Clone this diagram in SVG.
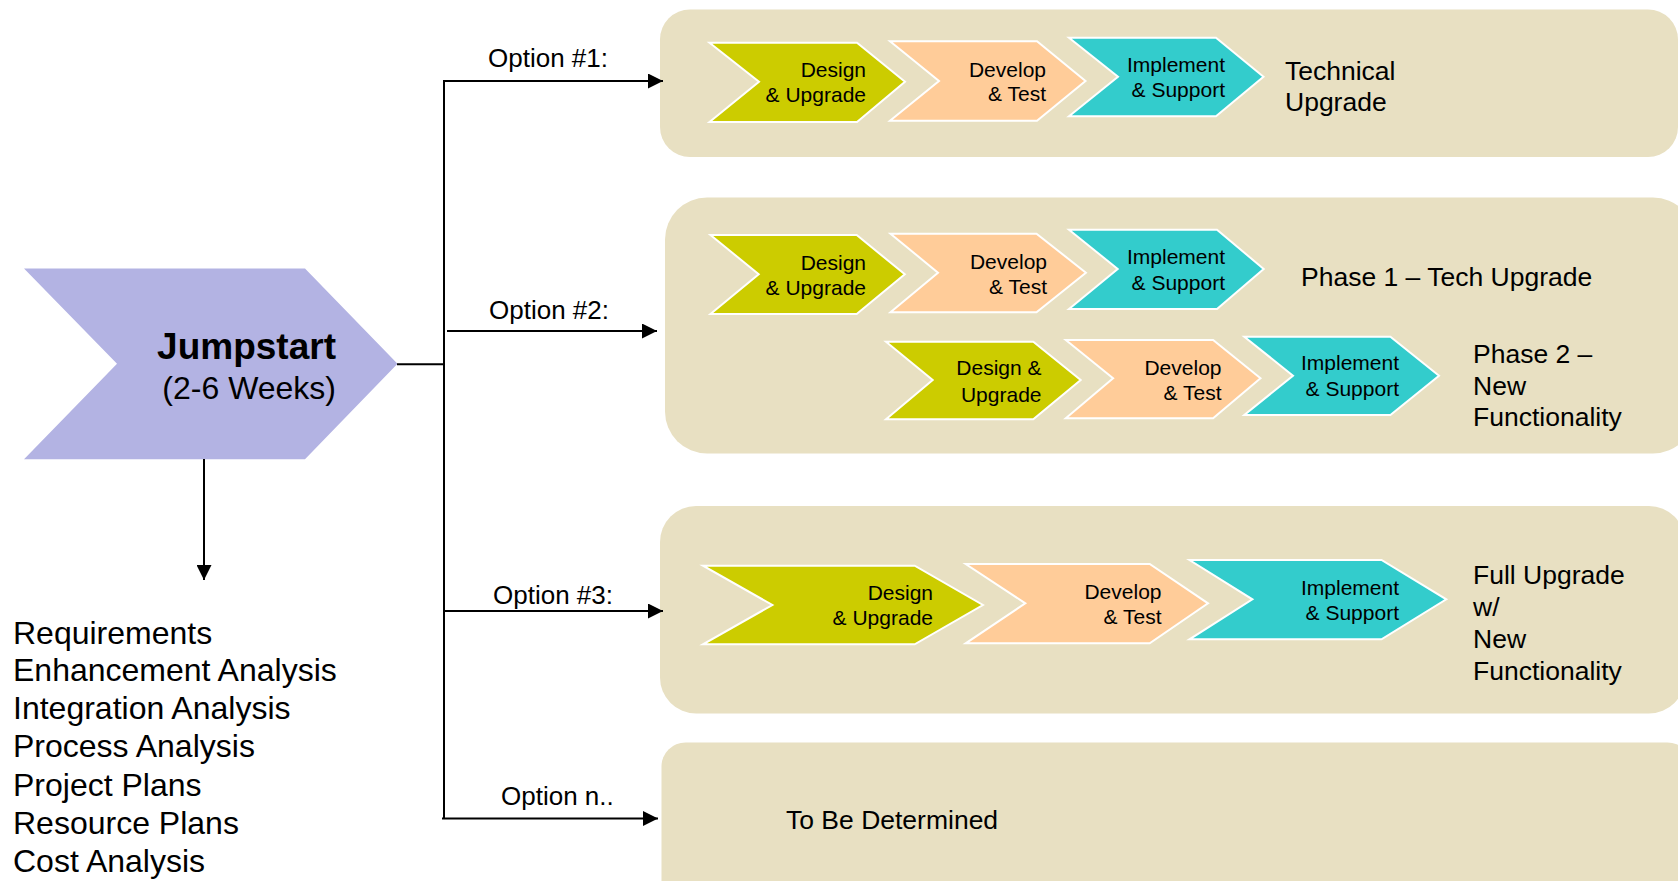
<svg xmlns="http://www.w3.org/2000/svg" width="1678" height="881" viewBox="0 0 1678 881">
<defs>
<style>
text{font-family:"Liberation Sans",Arial,sans-serif;fill:#000}
.panel{fill:#E8E0C2}
.g{fill:#CCCC00;stroke:#fff;stroke-width:2}
.o{fill:#FFCC99;stroke:#fff;stroke-width:2}
.t{fill:#33CCCC;stroke:#fff;stroke-width:2}
.st{font-size:21px;text-anchor:end}
.lbl{font-size:26.5px}
.opt{font-size:26px}
.list{font-size:32px}
.conn{stroke:#000;stroke-width:2;fill:none}
</style>
<marker id="ah" viewBox="0 0 10 10" refX="10" refY="5" markerWidth="15" markerHeight="15" markerUnits="userSpaceOnUse" orient="auto">
<path d="M0,0 L10,5 L0,10 z" fill="#000"/>
</marker>
</defs>
<rect width="1678" height="881" fill="#fff"/>

<g id="panel1">
<rect class="panel" x="660" y="9.5" width="1018" height="147.5" rx="30"/>
<g id="p1-design"><polygon class="g" points="709.5,42.7 857,42.7 905,81.7 857,122 709.5,122 759,81.7"/>
<text class="st" x="866" y="77">Design</text><text class="st" x="866" y="102">&amp; Upgrade</text></g>
<g id="p1-develop"><polygon class="o" points="890,41.3 1037,41.3 1085.5,81 1037,120.7 890,120.7 939,81"/>
<text class="st" x="1046" y="76.5">Develop</text><text class="st" x="1046" y="101">&amp; Test</text></g>
<g id="p1-implement"><polygon class="t" points="1069,37.7 1216,37.7 1263.5,76.7 1216,116.3 1069,116.3 1118,76.7"/>
<text class="st" x="1225" y="71.5">Implement</text><text class="st" x="1225" y="97">&amp; Support</text></g>
<text class="lbl" x="1285" y="80">Technical</text>
<text class="lbl" x="1285" y="111">Upgrade</text>
</g>

<g id="panel2">
<rect class="panel" x="665" y="197.5" width="1030" height="256" rx="42"/>
<g id="p2-design1"><polygon class="g" points="710.5,235 856.7,235 904.8,274.3 856.7,314 710.5,314 758.7,274.3"/>
<text class="st" x="866" y="270">Design</text><text class="st" x="866" y="294.5">&amp; Upgrade</text></g>
<g id="p2-develop1"><polygon class="o" points="890.5,233.7 1036.5,233.7 1085.9,272.7 1036.5,312.3 890.5,312.3 938,272.7"/>
<text class="st" x="1047" y="268.5">Develop</text><text class="st" x="1047" y="293.5">&amp; Test</text></g>
<g id="p2-implement1"><polygon class="t" points="1069,229.7 1217,229.7 1263.7,269 1217,309 1069,309 1117.7,269"/>
<text class="st" x="1225" y="263.5">Implement</text><text class="st" x="1225" y="289.5">&amp; Support</text></g>
<text class="lbl" x="1301" y="286">Phase 1 – Tech Upgrade</text>
<g id="p2-design2"><polygon class="g" points="886,341.7 1033.3,341.7 1080.7,380 1033.3,419.3 886,419.3 932.7,380"/>
<text class="st" x="1041.5" y="375">Design &amp;</text><text class="st" x="1041.5" y="401.5">Upgrade</text></g>
<g id="p2-develop2"><polygon class="o" points="1065.8,340 1213.1,340 1260.5,378.3 1213.1,418.3 1065.8,418.3 1113.1,378.3"/>
<text class="st" x="1221.5" y="375">Develop</text><text class="st" x="1221.5" y="400">&amp; Test</text></g>
<g id="p2-implement2"><polygon class="t" points="1244.3,336.7 1390.4,336.7 1439,375.7 1390.4,415 1244.3,415 1293,375.7"/>
<text class="st" x="1399" y="370">Implement</text><text class="st" x="1399" y="396">&amp; Support</text></g>
<text class="lbl" x="1473" y="363">Phase 2 –</text>
<text class="lbl" x="1473" y="395">New</text>
<text class="lbl" x="1473" y="426">Functionality</text>
</g>

<g id="panel3">
<rect class="panel" x="660" y="506" width="1025" height="207.5" rx="36"/>
<g id="p3-design"><polygon class="g" points="703,565.7 914.7,565.7 982.9,605 914.7,644.3 703,644.3 772.4,605"/>
<text class="st" x="933" y="600">Design</text><text class="st" x="933" y="625">&amp; Upgrade</text></g>
<g id="p3-develop"><polygon class="o" points="965.7,564 1149.7,564 1208,603.3 1149.7,643.3 965.7,643.3 1025.3,603.3"/>
<text class="st" x="1161.5" y="598.5">Develop</text><text class="st" x="1161.5" y="623.5">&amp; Test</text></g>
<g id="p3-implement"><polygon class="t" points="1189.5,560 1381.5,560 1446.3,599.3 1381.5,639.3 1189.5,639.3 1252.4,599.3"/>
<text class="st" x="1399" y="594.5">Implement</text><text class="st" x="1399" y="620">&amp; Support</text></g>
<text class="lbl" x="1473" y="583.5">Full Upgrade</text>
<text class="lbl" x="1473" y="616">w/</text>
<text class="lbl" x="1473" y="648">New</text>
<text class="lbl" x="1473" y="679.5">Functionality</text>
</g>

<g id="panel4">
<rect class="panel" x="661.5" y="742.5" width="1030" height="200" rx="24"/>
<text class="lbl" x="786" y="829">To Be Determined</text>
</g>

<g id="jumpstart">
<polygon fill="#B3B3E3" points="24,268.5 305,268.5 397.5,363.8 305,459.3 24,459.3 117,363.8"/>
<text x="336" y="359" font-size="37" font-weight="bold" text-anchor="end">Jumpstart</text>
<text x="336" y="398.5" font-size="32" text-anchor="end">(2-6 Weeks)</text>
</g>

<g id="deliverables">
<text class="list" x="13" y="643.5">Requirements</text>
<text class="list" x="13" y="681">Enhancement Analysis</text>
<text class="list" x="13" y="719">Integration Analysis</text>
<text class="list" x="13" y="757">Process Analysis</text>
<text class="list" x="13" y="796">Project Plans</text>
<text class="list" x="13" y="834">Resource Plans</text>
<text class="list" x="13" y="872">Cost Analysis</text>
</g>

<g id="connectors">
<line class="conn" x1="444" y1="80" x2="444" y2="819"/>
<line class="conn" x1="397" y1="364.3" x2="444" y2="364.3"/>
<line class="conn" x1="204" y1="459" x2="204" y2="580" marker-end="url(#ah)"/>
<line class="conn" x1="444" y1="81" x2="663" y2="81" marker-end="url(#ah)"/>
<line class="conn" x1="447" y1="331" x2="657" y2="331" marker-end="url(#ah)"/>
<line class="conn" x1="444" y1="611" x2="663" y2="611" marker-end="url(#ah)"/>
<line class="conn" x1="442" y1="818.5" x2="658" y2="818.5" marker-end="url(#ah)"/>
<text class="opt" x="488" y="67">Option #1:</text>
<text class="opt" x="489" y="318.5">Option #2:</text>
<text class="opt" x="493" y="603.5">Option #3:</text>
<text class="opt" x="501" y="805">Option n..</text>
</g>
</svg>
